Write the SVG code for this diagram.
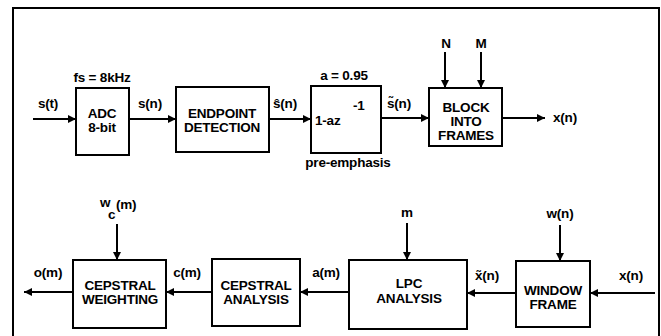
<svg xmlns="http://www.w3.org/2000/svg" width="661" height="336" viewBox="0 0 661 336">
<defs>
<style>
.box{fill:#fff;stroke:#000;stroke-width:2}
.ln{fill:none;stroke:#000;stroke-width:2}
text{font-family:"Liberation Sans",Arial,sans-serif;font-weight:bold;font-size:13.5px;letter-spacing:-0.2px;fill:#000}
.c{text-anchor:middle}
</style>
<marker id="ah" viewBox="0 0 10 10" refX="10" refY="5" markerWidth="4.5" markerHeight="4" orient="auto" markerUnits="strokeWidth">
<path d="M0,0 L10,5 L0,10 z" fill="#000"/>
</marker>
</defs>
<rect x="0" y="0" width="661" height="336" fill="#fff"/>
<rect x="13" y="8" width="646" height="340" fill="none" stroke="#000" stroke-width="2"/>

<g id="connectors">
<line class="ln" x1="33" y1="119" x2="76" y2="119" marker-end="url(#ah)"/>
<line class="ln" x1="129" y1="119" x2="176" y2="119" marker-end="url(#ah)"/>
<line class="ln" x1="269" y1="119" x2="311" y2="119" marker-end="url(#ah)"/>
<line class="ln" x1="381" y1="118" x2="429" y2="118" marker-end="url(#ah)"/>
<line class="ln" x1="502" y1="118" x2="545" y2="118" marker-end="url(#ah)"/>
<line class="ln" x1="445" y1="52" x2="445" y2="88" marker-end="url(#ah)"/>
<line class="ln" x1="481" y1="52" x2="481" y2="88" marker-end="url(#ah)"/>
<line class="ln" x1="655" y1="293" x2="590" y2="293" marker-end="url(#ah)"/>
<line class="ln" x1="516" y1="293" x2="467" y2="293" marker-end="url(#ah)"/>
<line class="ln" x1="349" y1="292" x2="300" y2="292" marker-end="url(#ah)"/>
<line class="ln" x1="212" y1="292" x2="166" y2="292" marker-end="url(#ah)"/>
<line class="ln" x1="73" y1="292" x2="24" y2="292" marker-end="url(#ah)"/>
<line class="ln" x1="560" y1="225" x2="560" y2="261" marker-end="url(#ah)"/>
<line class="ln" x1="407" y1="223" x2="407" y2="260" marker-end="url(#ah)"/>
<line class="ln" x1="117" y1="224" x2="117" y2="260" marker-end="url(#ah)"/>
</g>

<g id="labels">
<text x="48" y="108" class="c">s(t)</text>
<text x="102" y="82" class="c">fs = 8kHz</text>
<text x="150" y="108" class="c">s(n)</text>
<text x="285" y="108" class="c">ŝ(n)</text>
<text x="344" y="80" class="c">a = 0.95</text>
<text x="348" y="167" class="c">pre-emphasis</text>
<text x="399" y="108" class="c">s̃(n)</text>
<text x="446" y="48" class="c">N</text>
<text x="481" y="48" class="c">M</text>
<text x="565" y="122" class="c">x(n)</text>
<text x="100" y="207">w</text>
<text x="108" y="219">c</text>
<text x="116" y="209">(m)</text>
<text x="48" y="277" class="c">o(m)</text>
<text x="187" y="277" class="c">c(m)</text>
<text x="326" y="277" class="c">a(m)</text>
<text x="407" y="217" class="c">m</text>
<text x="560" y="218" class="c">w(n)</text>
<text x="487" y="280" class="c">x̃(n)</text>
<text x="631" y="280" class="c">x(n)</text>
</g>

<g id="adc">
<rect class="box" x="76" y="88" width="53" height="67"/>
<text x="102" y="118" class="c">ADC</text>
<text x="102" y="132" class="c">8-bit</text>
</g>
<g id="endpoint">
<rect class="box" x="176" y="87" width="93" height="65"/>
<text x="222" y="118" class="c">ENDPOINT</text>
<text x="222" y="132" class="c">DETECTION</text>
</g>
<g id="preemphasis">
<rect class="box" x="311" y="86" width="70" height="67"/>
<text x="315" y="125">1-az</text>
<text x="353" y="110">-1</text>
</g>
<g id="block">
<rect class="box" x="429" y="88" width="73" height="58"/>
<text x="466" y="112" class="c">BLOCK</text>
<text x="466" y="126" class="c">INTO</text>
<text x="466" y="140" class="c">FRAMES</text>
</g>
<g id="window">
<rect class="box" x="516" y="261" width="74" height="66"/>
<text x="553" y="295" class="c">WINDOW</text>
<text x="553" y="309" class="c">FRAME</text>
</g>
<g id="lpc">
<rect class="box" x="349" y="260" width="118" height="69"/>
<text x="409" y="288" class="c">LPC</text>
<text x="409" y="303" class="c">ANALYSIS</text>
</g>
<g id="cepanalysis">
<rect class="box" x="212" y="259" width="88" height="67"/>
<text x="256" y="290" class="c">CEPSTRAL</text>
<text x="256" y="304" class="c">ANALYSIS</text>
</g>
<g id="cepweighting">
<rect class="box" x="73" y="260" width="93" height="68"/>
<text x="120" y="290" class="c">CEPSTRAL</text>
<text x="120" y="304" class="c">WEIGHTING</text>
</g>
</svg>
